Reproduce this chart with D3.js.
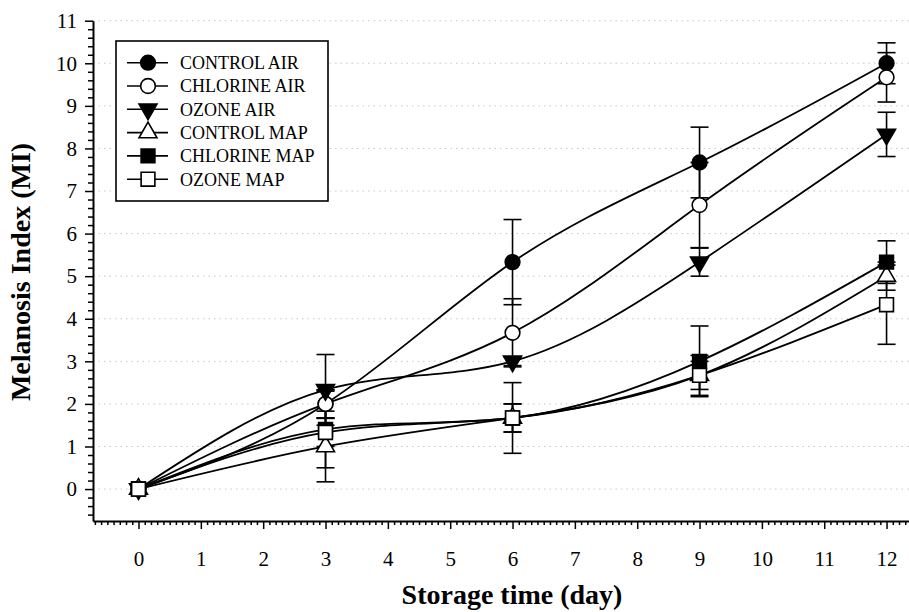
<!DOCTYPE html>
<html>
<head>
<meta charset="utf-8">
<script src="https://cdn.jsdelivr.net/npm/d3@7"></script>
<style>
  body { margin: 0; background: #fff; }
  svg { display: block; }
  text { font-family: "Liberation Serif", "Times New Roman", Times, serif; fill: #000; }
</style>
</head>
<body>
<svg id="chart" width="909" height="612"></svg>
<script>
// storage days
const days = [0, 3, 6, 9, 12]

// melanosis index per treatment (mean) and error (sd)
const controlAir = [0, 2.0, 5.33, 7.67, 10.0]
const controlAirErr = [0, 0.33, 1.0, 0.83, 0.48]
const chlorineAir = [0, 2.0, 3.67, 6.67, 9.67]
const chlorineAirErr = [0, 0.33, 0.8, 1.0, 0.58]
const ozoneAir = [0, 2.33, 3.0, 5.33, 8.33]
const ozoneAirErr = [0, 0.83, 0.1, 0.33, 0.52]
const controlMap = [0, 1.0, 1.67, 2.67, 5.0]
const controlMapErr = [0, 0.83, 0.33, 0.47, 0.33]
const chlorineMap = [0, 1.4, 1.67, 3.0, 5.33]
const chlorineMapErr = [0, 0.9, 0.33, 0.83, 0.5]
const ozoneMap = [0, 1.33, 1.67, 2.67, 4.33]
const ozoneMapErr = [0, 0.33, 0.83, 0.33, 0.93]

const seriesNames = ['CONTROL AIR', 'CHLORINE AIR', 'OZONE AIR', 'CONTROL MAP', 'CHLORINE MAP', 'OZONE MAP']
const xTicks = [0, 1, 2, 3, 4, 5, 6, 7, 8, 9, 10, 11, 12]
const yTicks = [0, 1, 2, 3, 4, 5, 6, 7, 8, 9, 10, 11]

const series = [
  {name: seriesNames[0], values: controlAir, err: controlAirErr, symbol: d3.symbolCircle, fill: '#000'},
  {name: seriesNames[1], values: chlorineAir, err: chlorineAirErr, symbol: d3.symbolCircle, fill: '#fff'},
  {name: seriesNames[2], values: ozoneAir, err: ozoneAirErr, symbol: 'down', fill: '#000'},
  {name: seriesNames[3], values: controlMap, err: controlMapErr, symbol: d3.symbolTriangle, fill: '#fff'},
  {name: seriesNames[4], values: chlorineMap, err: chlorineMapErr, symbol: d3.symbolSquare, fill: '#000'},
  {name: seriesNames[5], values: ozoneMap, err: ozoneMapErr, symbol: d3.symbolSquare, fill: '#fff'},
]

const svg = d3.select('#chart')
const plotLeft = 93, plotBottom = 521, plotTop = 20.7, plotRight = 909
const serif = '"Liberation Serif", "Times New Roman", Times, serif'

const x = d3.scaleLinear().domain([-0.73, 12.36]).range([plotLeft, plotRight])
const y = d3.scaleLinear().domain([-0.75, 11]).range([plotBottom, plotTop])

// dotted grid
svg.append('g')
  .selectAll('line')
  .data(yTicks)
  .enter()
  .append('line')
  .attr('x1', plotLeft).attr('x2', plotRight)
  .attr('y1', d => y(d)).attr('y2', d => y(d))
  .attr('stroke', '#c8c8c8')
  .attr('stroke-width', 1)
  .attr('stroke-dasharray', '1.5,4')

// minor ticks
const xMinor = d3.range(-7, 124).map(d => d / 10).filter(d => d % 1 !== 0)
const yMinor = d3.range(-3, 56).map(d => d / 5).filter(d => d % 1 !== 0)

svg.append('g')
  .attr('transform', `translate(0,${plotBottom})`)
  .call(d3.axisBottom(x).tickValues(xMinor).tickSize(4).tickFormat(''))
  .call(g => g.select('.domain').remove())
svg.append('g')
  .attr('transform', `translate(${plotLeft},0)`)
  .call(d3.axisLeft(y).tickValues(yMinor).tickSize(5).tickFormat(''))
  .call(g => g.select('.domain').remove())

const xAxis = svg.append('g')
  .attr('transform', `translate(0,${plotBottom})`)
  .call(d3.axisBottom(x).tickValues(xTicks).tickSize(8).tickPadding(22).tickSizeOuter(0))
xAxis.attr('font-family', serif)
xAxis.selectAll('text').attr('font-size', 21)

const yAxis = svg.append('g')
  .attr('transform', `translate(${plotLeft},0)`)
  .call(d3.axisLeft(y).tickValues(yTicks).tickSize(8).tickPadding(8).tickSizeOuter(0))
yAxis.attr('font-family', serif)
yAxis.selectAll('text').attr('font-size', 21)

svg.selectAll('.tick line').attr('stroke', '#000').attr('stroke-width', 1.5)
svg.selectAll('.domain').attr('stroke', '#000').attr('stroke-width', 2)

// axis titles
svg.append('text')
  .attr('x', 512).attr('y', 604)
  .attr('text-anchor', 'middle')
  .attr('font-size', 28).attr('font-weight', 'bold')
  .text('Storage time (day)')
svg.append('text')
  .attr('transform', 'translate(30,272) rotate(-90)')
  .attr('text-anchor', 'middle')
  .attr('font-size', 28).attr('font-weight', 'bold')
  .text('Melanosis Index (MI)')

function symbolPath(s, size) {
  if (s === 'down') return d3.symbol(d3.symbolTriangle, size)()
  return d3.symbol(s, size)()
}
function symbolSize(s) {
  if (s === d3.symbolCircle) return 170
  if (s === d3.symbolSquare) return 190
  return 140
}

const line = d3.line()
  .x((d, i) => x(days[i]))
  .y(d => y(d))
  .curve(d3.curveNatural)

// error bars
const errG = svg.append('g')
series.forEach(s => {
  const pts = s.values.map((v, i) => ({day: days[i], v: v, e: s.err[i]})).filter(p => p.e > 0)
  const g = errG.selectAll(null).data(pts).enter().append('g')
  g.append('line')
    .attr('x1', d => x(d.day)).attr('x2', d => x(d.day))
    .attr('y1', d => y(d.v - d.e)).attr('y2', d => y(d.v + d.e))
    .attr('stroke', '#000').attr('stroke-width', 1.6)
  g.append('line')
    .attr('x1', d => x(d.day) - 9).attr('x2', d => x(d.day) + 9)
    .attr('y1', d => y(d.v + d.e)).attr('y2', d => y(d.v + d.e))
    .attr('stroke', '#000').attr('stroke-width', 1.6)
  g.append('line')
    .attr('x1', d => x(d.day) - 9).attr('x2', d => x(d.day) + 9)
    .attr('y1', d => y(d.v - d.e)).attr('y2', d => y(d.v - d.e))
    .attr('stroke', '#000').attr('stroke-width', 1.6)
})

// lines
svg.append('g')
  .selectAll('path')
  .data(series)
  .enter()
  .append('path')
  .attr('d', d => line(d.values))
  .attr('fill', 'none')
  .attr('stroke', '#000')
  .attr('stroke-width', 1.8)

// markers
series.forEach(s => {
  svg.append('g')
    .selectAll('path')
    .data(s.values)
    .enter()
    .append('path')
    .attr('d', symbolPath(s.symbol, symbolSize(s.symbol)))
    .attr('transform', (d, i) => `translate(${x(days[i])},${y(d)})` + (s.symbol === 'down' ? ' rotate(180)' : ''))
    .attr('fill', s.fill)
    .attr('stroke', '#000')
    .attr('stroke-width', 1.6)
})

// legend
const legend = svg.append('g')
legend.append('rect')
  .attr('x', 116).attr('y', 41)
  .attr('width', 212).attr('height', 160)
  .attr('fill', '#fff')
  .attr('stroke', '#000')
  .attr('stroke-width', 1.6)
const items = legend.selectAll('.item')
  .data(series)
  .enter()
  .append('g')
  .attr('class', 'item')
  .attr('transform', (d, i) => `translate(0,${62.7 + i * 23.3})`)
items.append('line')
  .attr('x1', 127).attr('x2', 168)
  .attr('stroke', '#000').attr('stroke-width', 1.6)
items.append('path')
  .attr('d', d => symbolPath(d.symbol, symbolSize(d.symbol)))
  .attr('transform', d => 'translate(148,0)' + (d.symbol === 'down' ? ' rotate(180)' : ''))
  .attr('fill', d => d.fill)
  .attr('stroke', '#000')
  .attr('stroke-width', 1.6)
items.append('text')
  .attr('x', 180).attr('dy', '0.35em')
  .attr('font-size', 18)
  .text(d => d.name)
</script>
</body>
</html>
